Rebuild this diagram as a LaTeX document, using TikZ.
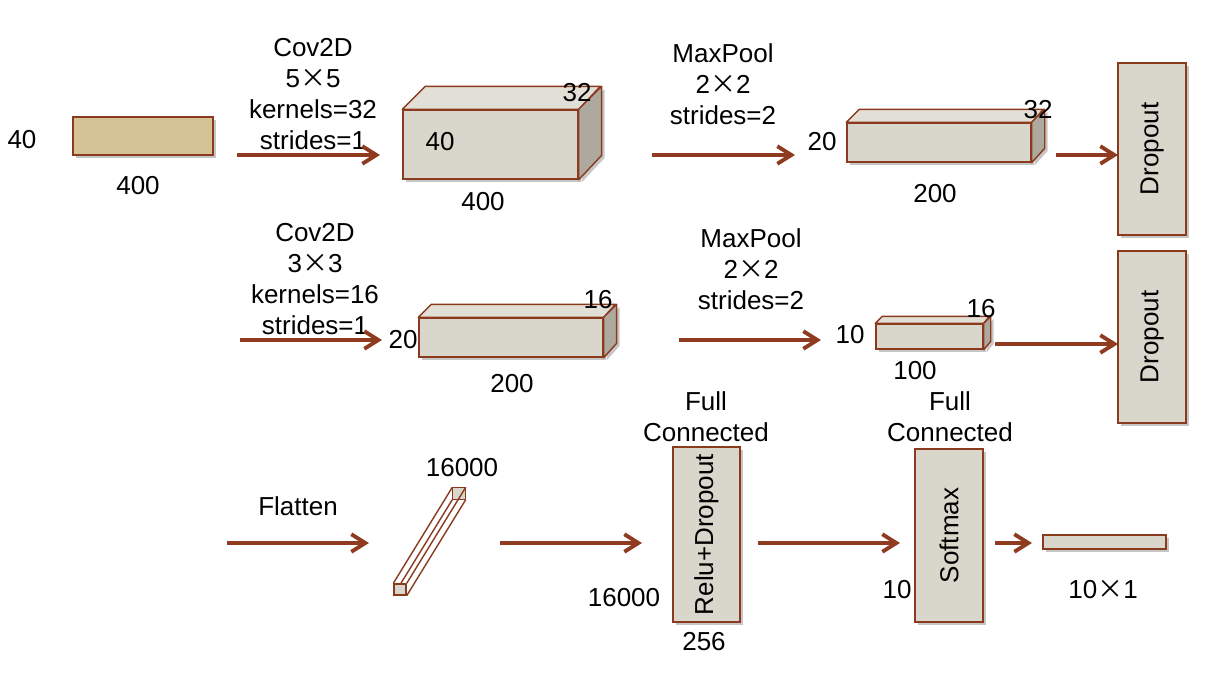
\documentclass[tikz,border=0pt]{standalone}
\usepackage{fontspec}
\setmainfont{Liberation Sans}
\newfontfamily\cjk{Noto Sans CJK SC}
\usetikzlibrary{arrows.meta,shadows}

\definecolor{boxfill}{HTML}{D9D7CB}
\definecolor{tanfill}{HTML}{D3C397}
\definecolor{topfill}{HTML}{E2DFD6}
\definecolor{sidefill}{HTML}{ADA99F}
\definecolor{edgebrown}{HTML}{8B3A1E}
\definecolor{arrowbrown}{HTML}{8E3B1F}

\newcommand{\by}{{\cjk ×}}

\tikzset{
	layer/.style={shape=rectangle,draw=edgebrown,line width=0.8pt,fill=boxfill,inner sep=0pt,
		drop shadow={shadow xshift=1.6pt,shadow yshift=-1.6pt,opacity=0.45}},
	face/.style={draw=edgebrown,line width=0.8pt,line join=round},
	flow/.style={draw=arrowbrown,line width=2.2pt,-{Straight Barb[length=8pt,width=10pt]}},
	lbl/.style={font=\fontsize{14.8}{17.6}\selectfont,inner sep=0pt,align=center}
}

\begin{document}
\begin{tikzpicture}[x=0.02cm,y=-0.02cm]
					\useasboundingbox (0,0) rectangle (1212,675);

					% input
					\node (input) [layer,fill=tanfill,minimum width=2.8cm,minimum height=0.76cm] at (143,136) {};
					\node (inH) [lbl] at (22,140) {40};
					\node (inW) [lbl] at (138,186) {400};

					% first convolution
					\node (conv1) [layer,minimum width=3.5cm,minimum height=1.38cm] at (490.5,144.5) {};
					\draw[face,fill=topfill] (conv1.north west) -- ++(23,-23) -- ++(175,0) -- (conv1.north east) -- cycle;
					\draw[face,fill=sidefill,drop shadow={shadow xshift=1.6pt,shadow yshift=-1.6pt,opacity=0.45}]
						(conv1.north east) -- ++(23,-23) -- ++(0,69) -- (conv1.south east) -- cycle;
					\node (conv1D) [lbl] at (577,93) {32};
					\node (conv1H) [lbl] at (440,142) {40};
					\node (conv1W) [lbl] at (483,202) {400};
					\node (conv1T) [lbl] at (313,94) {Cov2D\\5\by5\\kernels=32\\strides=1};

					% first pooling
					\node (pool1) [layer,minimum width=3.68cm,minimum height=0.78cm] at (939,142.5) {};
					\draw[face,fill=topfill] (pool1.north west) -- ++(13,-13) -- ++(184,0) -- (pool1.north east) -- cycle;
					\draw[face,fill=sidefill,drop shadow={shadow xshift=1.6pt,shadow yshift=-1.6pt,opacity=0.45}]
						(pool1.north east) -- ++(13,-13) -- ++(0,39) -- (pool1.south east) -- cycle;
					\node (pool1D) [lbl] at (1038,110) {32};
					\node (pool1H) [lbl] at (822,142) {20};
					\node (pool1W) [lbl] at (935,194) {200};
					\node (pool1T) [lbl] at (723,84) {MaxPool\\2\by2\\strides=2};

					\node (drop1) [layer,minimum width=1.36cm,minimum height=3.44cm] at (1152,149) {};
					\node (drop1T) [lbl,rotate=90] at (drop1) {Dropout};

					% second convolution
					\node (conv2) [layer,minimum width=3.68cm,minimum height=0.78cm] at (511,337.5) {};
					\draw[face,fill=topfill] (conv2.north west) -- ++(13,-13) -- ++(184,0) -- (conv2.north east) -- cycle;
					\draw[face,fill=sidefill,drop shadow={shadow xshift=1.6pt,shadow yshift=-1.6pt,opacity=0.45}]
						(conv2.north east) -- ++(13,-13) -- ++(0,39) -- (conv2.south east) -- cycle;
					\node (conv2D) [lbl] at (598,300) {16};
					\node (conv2H) [lbl] at (403,340) {20};
					\node (conv2W) [lbl] at (512,384) {200};
					\node (conv2T) [lbl] at (315,279) {Cov2D\\3\by3\\kernels=16\\strides=1};

					% second pooling
					\node (pool2) [layer,minimum width=2.14cm,minimum height=0.5cm] at (929.5,336.5) {};
					\draw[face,fill=topfill] (pool2.north west) -- ++(7,-7) -- ++(107,0) -- (pool2.north east) -- cycle;
					\draw[face,fill=sidefill,drop shadow={shadow xshift=1.6pt,shadow yshift=-1.6pt,opacity=0.45}]
						(pool2.north east) -- ++(7,-7) -- ++(0,25) -- (pool2.south east) -- cycle;
					\node (pool2D) [lbl] at (981,309) {16};
					\node (pool2H) [lbl] at (850,335) {10};
					\node (pool2W) [lbl] at (915,371) {100};
					\node (pool2T) [lbl] at (751,269) {MaxPool\\2\by2\\strides=2};

					\node (drop2) [layer,minimum width=1.36cm,minimum height=3.44cm] at (1152,337) {};
					\node (drop2T) [lbl,rotate=90] at (drop2) {Dropout};

					% flatten
					\node (flat) [face,fill=boxfill,minimum width=0.24cm,minimum height=0.22cm,inner sep=0pt] at (400,589.5) {};
					\draw[face,fill=boxfill] ([shift={(59,-96)}]flat.south west) rectangle ([shift={(59,-96)}]flat.north east);
					\draw[face] (flat.north west) -- ++(59,-96);
					\draw[face] (flat.north east) -- ++(59,-96);
					\draw[face] (flat.south east) -- ++(59,-96);
					\draw[face] (flat.south west) -- ++(59,-96);
					\node (flat2) [face,fill=boxfill,minimum width=0.24cm,minimum height=0.22cm,inner sep=0pt] at (flat) {};
					\node (flatT) [lbl] at (298,506) {Flatten};
					\node (flatN) [lbl] at (462,468) {16000};

					% dense layers
					\node (fc1) [layer,minimum width=1.34cm,minimum height=3.5cm] at (706.5,534.5) {};
					\node (fc1T) [lbl,rotate=90] at (fc1) {Relu+Dropout};
					\node (fc1H) [lbl] at (706,417) {Full\\Connected};
					\node (fc1In) [lbl] at (624,598) {16000};
					\node (fc1Out) [lbl] at (704,642) {256};

					\node (fc2) [layer,minimum width=1.36cm,minimum height=3.46cm] at (949,535.5) {};
					\node (fc2T) [lbl,rotate=90] at (fc2) {Softmax};
					\node (fc2H) [lbl] at (950,417) {Full\\Connected};
					\node (fc2In) [lbl] at (897,590) {10};

					\node (output) [layer,minimum width=2.46cm,minimum height=0.28cm] at (1104.5,542) {};
					\node (outT) [lbl] at (1103,590) {10\by1};

					% arrows
					\coordinate (a1s) at (237,155);  \coordinate (a1e) at (380,155);
					\coordinate (a2s) at (652,155);  \coordinate (a2e) at (795,155);
					\coordinate (a3s) at (1056,155); \coordinate (a3e) at (1118,155);
					\coordinate (a4s) at (240,340);  \coordinate (a4e) at (382,340);
					\coordinate (a5s) at (679,340);  \coordinate (a5e) at (821,340);
					\coordinate (a6s) at (995,344);  \coordinate (a6e) at (1118,344);
					\coordinate (a7s) at (227,543);  \coordinate (a7e) at (369,543);
					\coordinate (a8s) at (500,543);  \coordinate (a8e) at (642,543);
					\coordinate (a9s) at (758,543);  \coordinate (a9e) at (900,543);
					\coordinate (a10s) at (995,543); \coordinate (a10e) at (1032,543);

					\draw[flow] (a1s) -- (a1e);
					\draw[flow] (a2s) -- (a2e);
					\draw[flow] (a3s) -- (a3e);
					\draw[flow] (a4s) -- (a4e);
					\draw[flow] (a5s) -- (a5e);
					\draw[flow] (a6s) -- (a6e);
					\draw[flow] (a7s) -- (a7e);
					\draw[flow] (a8s) -- (a8e);
					\draw[flow] (a9s) -- (a9e);
					\draw[flow] (a10s) -- (a10e);
				\end{tikzpicture}
\end{document}
